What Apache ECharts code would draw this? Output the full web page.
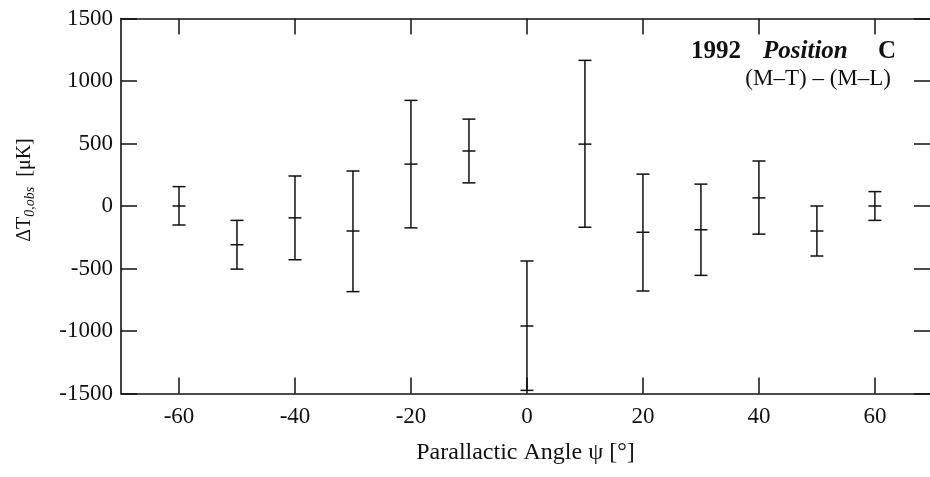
<!DOCTYPE html>
<html>
<head>
<meta charset="utf-8">
<script src="https://cdn.jsdelivr.net/npm/echarts@6/dist/echarts.min.js"></script>
<style>
  html, body { margin: 0; padding: 0; background: #fff; }
  #main { width: 930px; height: 477px; }
</style>
</head>
<body>
<div id="main"></div>
<script>
// parallactic angle of each point (deg)
const angles = [-60, -50, -40, -30, -20, -10, 0, 10, 20, 30, 40, 50, 60];
// measured dT and its error bar ends (uK)
const values = [0, -310, -95, -200, 335, 440, -960, 495, -210, -190, 65, -200, 0];
const lows = [-152, -505, -430, -685, -175, 185, -1475, -170, -680, -555, -225, -400, -115];
const highs = [155, -115, 240, 280, 845, 695, -440, 1165, 255, 175, 360, 0, 115];
// tick labels
const xTicks = [-60, -40, -20, 0, 20, 40, 60];

const chart = echarts.init(document.getElementById('main'));

const data = angles.map((a, i) => [a, values[i], lows[i], highs[i]]);
const font = 'Liberation Serif';
const ink = '#111';

// draws one error bar: stem, two caps and a mark at the value
function renderBar(params, api) {
  const x = api.value(0);
  const c = api.coord([x, api.value(1)]);
  const lo = api.coord([x, api.value(2)]);
  const hi = api.coord([x, api.value(3)]);
  const cap = 6.5;
  const style = { stroke: ink, lineWidth: 1.5 };
  return {
    type: 'group',
    children: [
      { type: 'line', shape: { x1: lo[0], y1: lo[1], x2: hi[0], y2: hi[1] }, style },
      { type: 'line', shape: { x1: lo[0] - cap, y1: lo[1], x2: lo[0] + cap, y2: lo[1] }, style },
      { type: 'line', shape: { x1: hi[0] - cap, y1: hi[1], x2: hi[0] + cap, y2: hi[1] }, style },
      { type: 'line', shape: { x1: c[0] - cap, y1: c[1], x2: c[0] + cap, y2: c[1] }, style }
    ]
  };
}

const tickStyle = { show: true, inside: true, length: 16, lineStyle: { color: ink, width: 1.5 } };
const frame = { show: true, onZero: false, lineStyle: { color: ink, width: 1.6 } };
const noLine = { show: false, onZero: false };
const plain = v => String(v);

chart.setOption({
  animation: false,
  backgroundColor: '#fff',
  grid: { left: 121, right: 0, top: 18.5, bottom: 83.5 },
  xAxis: [
    {
      type: 'value', min: -70, max: 69.5, position: 'bottom',
      axisLine: frame, splitLine: { show: false },
      axisTick: Object.assign({ customValues: xTicks }, tickStyle),
      axisLabel: { customValues: xTicks, formatter: plain, margin: 12, color: ink, fontFamily: font, fontSize: 23 },
      name: 'Parallactic Angle \u03C8 [\u00B0]', nameLocation: 'middle', nameGap: 47,
      nameTextStyle: { color: ink, fontFamily: font, fontSize: 24 }
    },
    {
      type: 'value', min: -70, max: 69.5, position: 'top',
      axisLine: frame, splitLine: { show: false },
      axisTick: Object.assign({ customValues: xTicks }, tickStyle),
      axisLabel: { show: false }
    }
  ],
  yAxis: [
    {
      type: 'value', min: -1500, max: 1500, interval: 500, position: 'left',
      axisLine: frame, splitLine: { show: false },
      axisTick: tickStyle,
      axisLabel: { formatter: plain, margin: 8, color: ink, fontFamily: font, fontSize: 23 }
    },
    {
      type: 'value', min: -1500, max: 1500, interval: 500, position: 'right',
      axisLine: noLine, splitLine: { show: false },
      axisTick: tickStyle,
      axisLabel: { show: false }
    }
  ],
  graphic: [
    {
      type: 'text', x: 25, y: 190, rotation: Math.PI / 2,
      style: {
        text: '{a|\u0394T}{s|0,obs}{a|  [\u03BCK]}',
        align: 'center', verticalAlign: 'middle',
        rich: {
          a: { fontFamily: font, fontSize: 20, fill: ink },
          s: { fontFamily: font, fontSize: 14, fontStyle: 'italic', fill: ink, padding: [10, 0, 0, 0] }
        }
      }
    },
    {
      type: 'text', x: 691, y: 52,
      style: {
        text: '1992', align: 'left', verticalAlign: 'middle',
        fontFamily: font, fontSize: 25, fontWeight: 'bold', fill: ink
      }
    },
    {
      type: 'text', x: 763, y: 52,
      style: {
        text: 'Position', align: 'left', verticalAlign: 'middle',
        fontFamily: font, fontSize: 25, fontWeight: 'bold', fontStyle: 'italic', fill: ink
      }
    },
    {
      type: 'text', x: 896, y: 52,
      style: {
        text: 'C', align: 'right', verticalAlign: 'middle',
        fontFamily: font, fontSize: 25, fontWeight: 'bold', fill: ink
      }
    },
    {
      type: 'text', x: 891, y: 79,
      style: {
        text: '(M\u2013T) \u2013 (M\u2013L)',
        align: 'right', verticalAlign: 'middle',
        fontFamily: font, fontSize: 23, fill: ink
      }
    }
  ],
  series: [
    {
      type: 'custom',
      xAxisIndex: 0, yAxisIndex: 0,
      renderItem: renderBar,
      encode: { x: 0, y: [1, 2, 3] },
      data: data,
      clip: false
    }
  ]
});
</script>
</body>
</html>
